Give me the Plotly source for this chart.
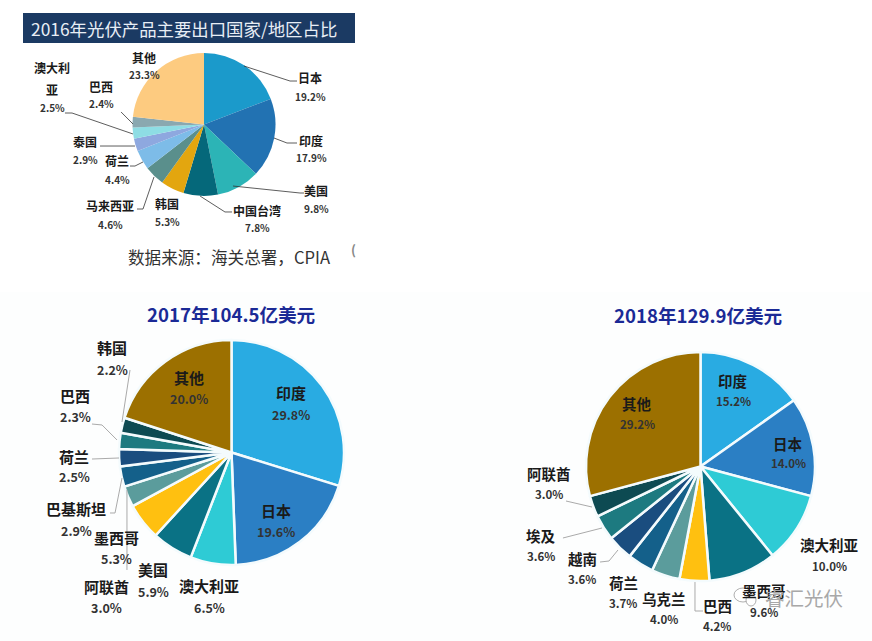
import plotly.graph_objects as go

W = 872
H = 641
FONT = "Noto Sans CJK SC"

# 2016
labels_2016 = ["日本", "印度", "美国", "中国台湾", "韩国", "马来西亚", "荷兰", "泰国", "澳大利亚", "巴西", "其他"]
values_2016 = [19.2, 17.9, 9.8, 7.8, 5.3, 4.6, 4.4, 2.9, 2.5, 2.4, 23.3]
colors_2016 = ["#1b9acb", "#2272b2", "#2cb4b6", "#05687a", "#e3a60f", "#5a8f8c",
               "#7dbce8", "#8ea8df", "#8edde4", "#8aa8b0", "#fdcb80"]

# 2017
labels_2017 = ["印度", "日本", "澳大利亚", "美国", "墨西哥", "阿联酋", "巴基斯坦", "荷兰", "巴西", "韩国", "其他"]
values_2017 = [29.8, 19.6, 6.5, 5.9, 5.3, 3.0, 2.9, 2.5, 2.3, 2.2, 20.0]
colors_2017 = ["#29abe2", "#2b7fc4", "#2ecbd5", "#0a7285", "#ffc010", "#5b9c9c",
               "#14608a", "#1a4d7f", "#1d7a80", "#0d4a52", "#9c7000"]

# 2018
labels_2018 = ["印度", "日本", "澳大利亚", "墨西哥", "巴西", "乌克兰", "荷兰", "越南", "埃及", "阿联酋", "其他"]
values_2018 = [15.2, 14.0, 10.0, 9.6, 4.2, 4.0, 3.7, 3.6, 3.6, 3.0, 29.2]
colors_2018 = ["#29abe2", "#2b7fc4", "#2ecbd5", "#0a7285", "#ffc010", "#5b9c9c",
               "#14608a", "#1a4d7f", "#1d7a80", "#0d4a52", "#9c7000"]

# where each name / percent sits on the page
pos_2016 = {"日本": (310, 78, 96), "印度": (311, 140, 157), "美国": (316, 190, 208),
            "中国台湾": (257, 210, 227), "韩国": (167, 203, 221), "马来西亚": (110, 206, 224),
            "荷兰": (117, 161, 179), "泰国": (85, 141, 159), "澳大利亚": (52, 68, 107),
            "巴西": (101, 87, 104), "其他": (144, 57, 75)}
pos_2017 = {"印度": (291, 392, 414), "日本": (276, 510, 531), "澳大利亚": (209, 585, 607),
            "美国": (153, 569, 591), "墨西哥": (116, 537, 558), "阿联酋": (106, 586, 607),
            "巴基斯坦": (76, 508, 530), "荷兰": (74, 456, 476), "巴西": (75, 395, 416),
            "韩国": (112, 347, 369), "其他": (189, 377, 399)}
pos_2018 = {"印度": (733, 380, 401), "日本": (788, 443, 463), "澳大利亚": (829, 544, 566),
            "墨西哥": (764, 590, 612), "巴西": (717, 605, 626), "乌克兰": (664, 598, 619),
            "荷兰": (623, 582, 603), "越南": (582, 558, 579), "埃及": (541, 535, 556),
            "阿联酋": (549, 473, 494), "其他": (637, 403, 424)}

lines_2016 = [[(244, 66), (290, 81), (297, 81)], [(274, 138), (287, 143), (297, 143)],
              [(233, 186), (300, 193), (304, 193)], [(200, 196), (225, 212), (232, 212)],
              [(154, 177), (143, 209), (137, 209)], [(143, 162), (135, 166), (130, 166)],
              [(135, 146), (100, 146)], [(133, 134), (72, 113), (65, 113)],
              [(133, 124), (121, 112)]]
lines_2017 = [[(130, 370), (122, 422)], [(92, 424), (102, 425), (117, 440)],
              [(92, 459), (119, 458)], [(110, 513), (115, 513), (122, 478)],
              [(127, 570), (127, 490)]]
lines_2018 = [[(566, 501), (592, 507)], [(563, 538), (602, 528)],
              [(600, 562), (609, 561), (618, 550)], [(703, 611), (695, 611), (695, 582)]]


def px_x(x):
    return x / W


def px_y(y):
    return 1 - y / H


def pie(labels, values, colors, cx, cy, r, border):
    return go.Pie(labels=labels, values=values, sort=False, direction="clockwise", rotation=0,
                  textinfo="none", showlegend=False,
                  marker=dict(colors=colors, line=dict(color="#f4fbfd", width=border)),
                  domain=dict(x=[px_x(cx - r), px_x(cx + r)], y=[px_y(cy + r), px_y(cy - r)]))


def text(x, y, s, size, color="#1a1a1a", bold=True):
    return dict(x=px_x(x), y=px_y(y), xref="paper", yref="paper", text="<b>%s</b>" % s if bold else s,
                showarrow=False, xanchor="center", yanchor="middle",
                font=dict(family=FONT, size=size, color=color))


def leader(points, color, width):
    path = "M" + " L".join("%.4f %.4f" % (px_x(x), px_y(y)) for x, y in points)
    return dict(type="path", xref="paper", yref="paper", path=path,
                line=dict(color=color, width=width))


def oval(x0, y0, x1, y1):
    return dict(type="circle", xref="paper", yref="paper", x0=px_x(x0), x1=px_x(x1),
                y0=px_y(y1), y1=px_y(y0), fillcolor="white", line=dict(color="#999999", width=0.8))


fig = go.Figure()
fig.add_trace(pie(labels_2016, values_2016, colors_2016, 204, 124.5, 71.5, 0))
fig.add_trace(pie(labels_2017, values_2017, colors_2017, 231.5, 452.5, 112.5, 2.5))
fig.add_trace(pie(labels_2018, values_2018, colors_2018, 700.5, 466.5, 114.5, 2.5))

notes = []
for name, val in zip(labels_2016, values_2016):
    x, y1, y2 = pos_2016[name]
    if name == "澳大利亚":
        notes.append(text(x, y1, "澳大利", 12))
        notes.append(text(x, 89, "亚", 12))
    else:
        notes.append(text(x, y1, name, 12))
    notes.append(text(x, y2, "%.1f%%" % val, 10, "#333333"))
for name, val in zip(labels_2017, values_2017):
    x, y1, y2 = pos_2017[name]
    notes.append(text(x, y1, name, 15))
    notes.append(text(x, y2, "%.1f%%" % val, 12.5, "#333333"))
for name, val in zip(labels_2018, values_2018):
    x, y1, y2 = pos_2018[name]
    notes.append(text(x, y1, name, 14.5))
    notes.append(text(x, y2, "%.1f%%" % val, 11.5, "#333333"))

notes.append(text(184, 29, "2016年光伏产品主要出口国家/地区占比", 17.4, "#e8eef5", False))
notes.append(text(230, 257, "数据来源：海关总署，CPIA", 16.6, "#333333", False))
notes.append(text(231, 313, "2017年104.5亿美元", 18.6, "#1b2a96"))
notes.append(text(698, 314, "2018年129.9亿美元", 18.6, "#1b2a96"))
notes.append(text(353, 249, "(", 13, "#888888"))
# watermark goes over the 墨西哥 label
notes.append(text(804, 597, "睿汇光伏", 19.5, "#a8a8a8", False))

shapes = [dict(type="rect", xref="paper", yref="paper", layer="below",
               x0=0, x1=1, y0=0, y1=px_y(292), fillcolor="#fdfefe", line=dict(width=0)),
          dict(type="rect", xref="paper", yref="paper", layer="below",
               x0=px_x(23), x1=px_x(355), y0=px_y(43), y1=px_y(13),
               fillcolor="#1b3a63", line=dict(width=0))]
shapes += [leader(p, "#333333", 0.8) for p in lines_2016]
shapes += [leader(p, "#aaaaaa", 1) for p in lines_2017]
shapes += [leader(p, "#aaaaaa", 1) for p in lines_2018]
shapes += [oval(734, 588, 752, 602), oval(746, 594, 756, 606)]

fig.update_layout(width=W, height=H, margin=dict(l=0, r=0, t=0, b=0), autosize=False,
                  paper_bgcolor="white", annotations=notes, shapes=shapes)
fig.write_html("out.html", config=dict(displayModeBar=False),
               post_script="document.body.style.margin='0';")
